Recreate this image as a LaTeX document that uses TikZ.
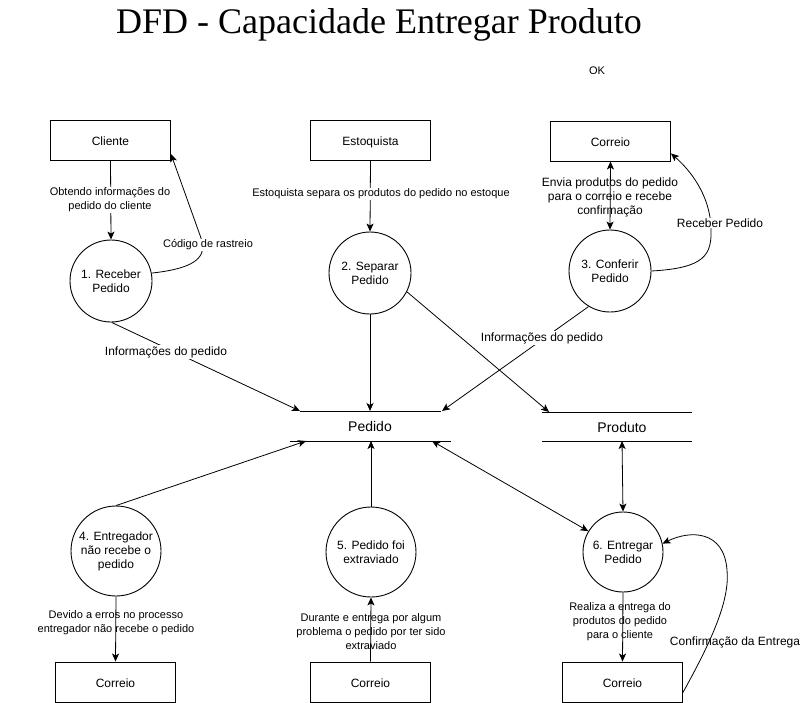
\documentclass[tikz,border=0pt]{standalone}
\usepackage{fontspec}
\setmainfont{Liberation Sans}
\newfontfamily\titlefont{Liberation Serif}
\usetikzlibrary{arrows.meta}

\begin{document}
\begin{tikzpicture}[x=1pt,y=-1pt,
  every node/.style={font=\fontsize{12}{14}\selectfont},
  entity/.style={draw, line width=0.9pt, minimum width=120pt, minimum height=40pt, inner sep=0pt, text height=10.6pt, text depth=0.6pt},
  proc/.style={draw, circle, line width=0.9pt, minimum size=#1, inner sep=0pt, align=center},
  proc/.default=82pt,
  store/.style={font=\fontsize{14}{16}\selectfont},
  flow/.style={line width=0.8pt, -{Stealth[length=8pt,width=7pt,inset=2pt]}},
  biflow/.style={line width=0.8pt, {Stealth[length=8pt,width=7pt,inset=2pt]}-{Stealth[length=8pt,width=7pt,inset=2pt]}},
  lbl/.style={font=\fontsize{11}{14}\selectfont, align=center, inner sep=1pt},
  lblbg/.style={lbl, fill=white},
  biglbl/.style={font=\fontsize{12}{14}\selectfont, align=center, inner sep=1pt},
  biglblbg/.style={biglbl, fill=white},
  storeline/.style={line width=0.9pt}
]
\useasboundingbox (0,0) rectangle (811,702);

% heading
\node[font=\titlefont\fontsize{36}{40}\selectfont, anchor=base] (title) at (379,33) {DFD - Capacidade Entregar Produto};
\node[font=\fontsize{11}{13}\selectfont] (ok) at (597,71) {OK};

% external entities
\node[entity] (cli) at (110.5,140.5) {Cliente};
\node[entity] (est) at (370.5,140.5) {Estoquista};
\node[entity] (cor) at (610.5,141) {Correio};
\node[entity] (corA) at (115.5,682) {Correio};
\node[entity] (corB) at (370.5,682) {Correio};
\node[entity] (corC) at (622.5,682) {Correio};

% processes
\node[proc] (p1) at (111,281) {1. Receber\\Pedido};
\node[proc] (p2) at (370,273) {2. Separar\\Pedido};
\node[proc] (p3) at (610,271) {3. Conferir\\Pedido};
\node[proc=90pt] (p4) at (116,551) {4. Entregador\\não recebe o\\pedido};
\node[proc=90pt] (p5) at (371,552) {5. Pedido foi\\extraviado};
\node[proc=80pt] (p6) at (623,552) {6. Entregar\\Pedido};

% data stores
\node[store] (ped) at (370,426) {Pedido};
\node[store] (prod) at (622,427) {Produto};
\coordinate (pedTL) at (300,411);
\coordinate (pedTR) at (441,411);
\coordinate (pedBL) at (290,441);
\coordinate (pedBR) at (451,441);
\coordinate (prodTL) at (542,412);
\coordinate (prodTR) at (692,412);
\coordinate (prodBL) at (542,441);
\coordinate (prodBR) at (692,441);
\draw[storeline] (pedTL) -- (pedTR);
\draw[storeline] (pedBL) -- (pedBR);
\draw[storeline] (prodTL) -- (prodTR);
\draw[storeline] (prodBL) -- (prodBR);

% attachment points on the stores
\coordinate (pedIn2) at (370,411);
\coordinate (pedIn3) at (442,411);
\coordinate (prodIn2) at (549,412);
\coordinate (pedIn4) at (306,441);
\coordinate (pedIn5) at (371,441);
\coordinate (pedIO6) at (432,441);
\coordinate (prodIO6) at (622,441);

% upper flows
\draw[flow] (cli.south) -- (p1.north);
\draw[flow] (p1.11) .. controls (198,268) and (207,256) .. (201,238) -- ([yshift=7pt]cli.south east);
\draw[flow] (p1.-89) -- (pedTL);
\draw[flow] (est.south) -- (p2.north);
\draw[flow] (p2.south) -- (pedIn2);
\draw[flow] (p2.-27) -- (prodIn2);
\draw[biflow] (cor.south) -- (p3.north);
\draw[flow] (p3.east) .. controls (705,268) and (712,255) .. (711,228) .. controls (710,195) and (690,170) .. ([yshift=8pt]cor.south east);
\draw[flow] (p3.-121) -- (pedIn3);

% lower flows
\draw[flow] (p4.north) -- (pedIn4);
\draw[flow] (p4.south) -- (corA.north);
\draw[flow] (p5.north) -- (pedIn5);
\draw[flow] (corB.north) -- (p5.south);
\draw[biflow] (pedIO6) -- (p6.149);
\draw[biflow] (prodIO6) -- (p6.north);
\draw[flow] (p6.south) -- (corC.north);
\draw[flow] ([yshift=10pt]corC.south east) .. controls (712,640) and (730,600) .. (727,570) .. controls (724,530) and (690,530) .. (p6.12);

% flow labels
\node[lblbg] (l1) at (110,200) {Obtendo informações do\\pedido do cliente};
\node[lblbg] (l2) at (208,245) {Código de rastreio};
\node[biglblbg] (l3) at (166,352) {Informações do pedido};
\node[lblbg] (l4) at (381,194) {Estoquista separa os produtos do pedido no estoque};
\node[biglbl] (l5) at (610,197) {Envia produtos do pedido\\para o correio e recebe\\confirmação};
\node[biglblbg] (l6) at (720,223) {Receber Pedido};
\node[biglblbg] (l7) at (542,338) {Informações do pedido};
\node[lbl] (l8) at (116,623) {Devido a erros no processo\\entregador não recebe o pedido};
\node[lbl] (l9) at (371,632) {Durante e entrega por algum\\problema o pedido por ter sido\\extraviado};
\node[lbl] (l10) at (620,622) {Realiza a entrega do\\produtos do pedido\\para o cliente};
\node[biglbl] (l11) at (735,642) {Confirmação da Entrega};

\end{tikzpicture}
\end{document}
